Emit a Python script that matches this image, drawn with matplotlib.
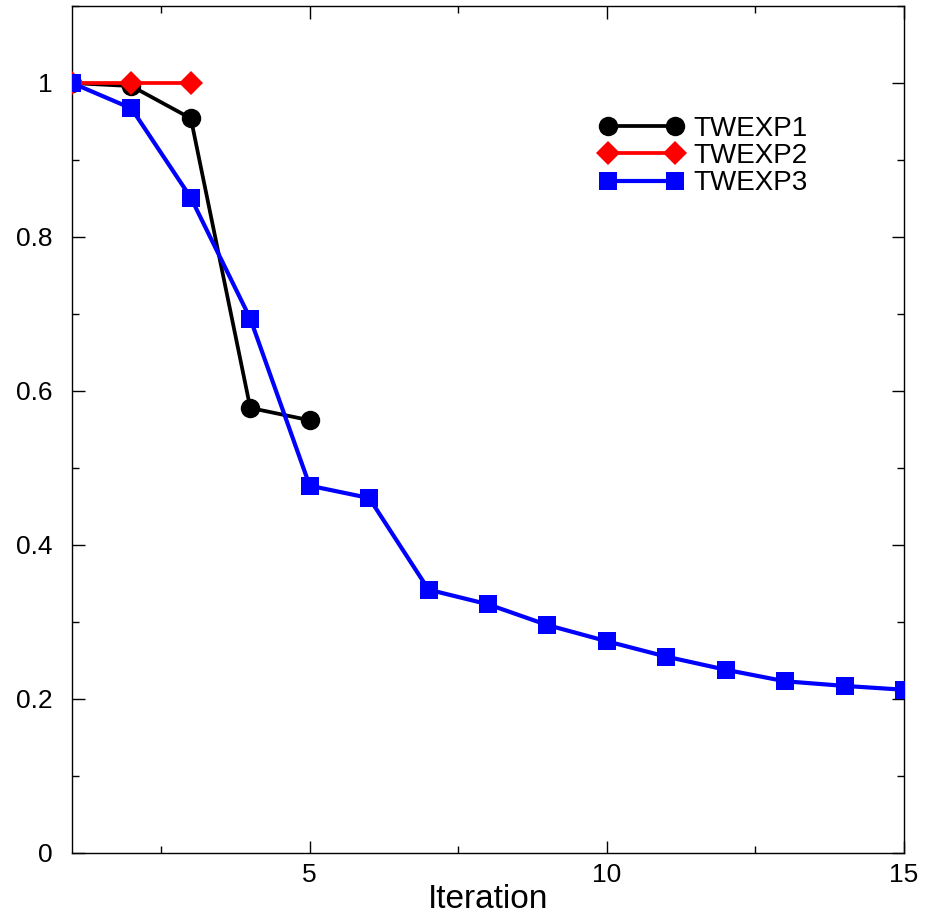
import matplotlib
matplotlib.use("Agg")
import matplotlib.pyplot as plt
from matplotlib.ticker import MultipleLocator, FuncFormatter

plt.rcParams['font.family'] = ['Liberation Sans', 'DejaVu Sans']

x1 = [1, 2, 3, 4, 5]
twexp1 = [1.0, 0.996, 0.954, 0.578, 0.562]
x2 = [1, 2, 3]
twexp2 = [1.0, 1.0, 1.0]
x3 = list(range(1, 16))
twexp3 = [1.0, 0.967, 0.851, 0.694, 0.477, 0.461, 0.342, 0.323,
          0.296, 0.275, 0.255, 0.238, 0.223, 0.217, 0.212]

fig = plt.figure(figsize=(9.25, 9.19), dpi=100)
ax = fig.add_axes([72/925, 66/919, 832/925, 847/919])

# blue drawn last, it sits on top of the others in the original
ax.plot(x1, twexp1, color='black', lw=2.7, marker='o', ms=14,
        markeredgewidth=0, label='TWEXP1', zorder=2)
ax.plot(x2, twexp2, color='red', lw=2.7, marker='D', ms=12,
        markeredgewidth=0, label='TWEXP2', zorder=3)
ax.plot(x3, twexp3, color='blue', lw=3.0, marker='s', ms=12.5,
        markeredgewidth=0, label='TWEXP3', zorder=4)

ax.set_xlim(1, 15)
ax.set_ylim(0, 1.1)
ax.xaxis.set_major_locator(MultipleLocator(5))
ax.xaxis.set_minor_locator(MultipleLocator(2.5))
ax.yaxis.set_major_locator(MultipleLocator(0.2))
ax.yaxis.set_minor_locator(MultipleLocator(0.1))

def fmt(v, pos):
    if abs(v) < 1e-9:
        return '0'
    if abs(v - round(v)) < 1e-9:
        return '%d' % round(v)
    return '%.1f' % v

ax.yaxis.set_major_formatter(FuncFormatter(fmt))
ax.xaxis.set_major_formatter(FuncFormatter(fmt))
ax.tick_params(which='both', direction='in', top=True, right=True, width=1)
ax.tick_params(which='major', length=9, labelsize=19)
ax.tick_params(axis='y', which='major', pad=14)
ax.tick_params(axis='x', which='major', pad=7)
ax.tick_params(which='minor', length=5)
for s in ax.spines.values():
    s.set_linewidth(1)

ax.set_xlabel('Iteration', fontsize=24, labelpad=-2)

ax.legend(loc='upper left', bbox_to_anchor=(0.618, 0.887), frameon=False,
          numpoints=2, handlelength=3.0, fontsize=20, handletextpad=0.35,
          labelspacing=0.05, borderpad=0)

fig.savefig('out.png', dpi=100)
